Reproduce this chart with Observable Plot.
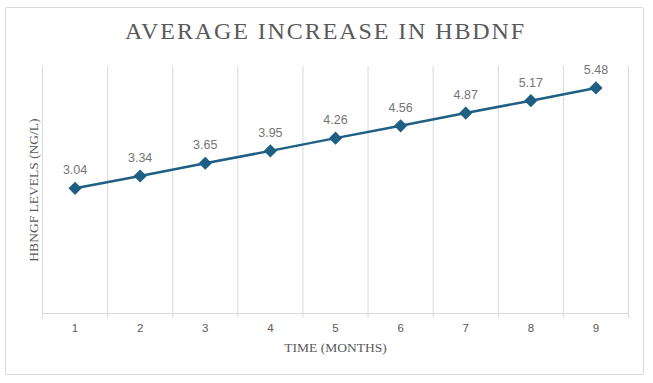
<!DOCTYPE html>
<html>
<head>
<meta charset="utf-8">
<script src="https://cdn.jsdelivr.net/npm/d3@7"></script>
<script src="https://cdn.jsdelivr.net/npm/@observablehq/plot@0.6"></script>
<style>
  html, body { margin: 0; padding: 0; background: #fff; }
  #wrap { position: relative; width: 653px; height: 383px; overflow: hidden; }
  #border { position: absolute; left: 5px; top: 7px; width: 639px; height: 368px; border: 1px solid #d9d9d9; border-radius: 2px; box-sizing: border-box; }
  #title { position: absolute; left: 0; top: 18px; width: 651px; text-align: center; font-family: "Liberation Serif", "DejaVu Serif", serif; font-size: 24px; letter-spacing: 1.9px; color: #595959; }
  #chart { position: absolute; left: 0; top: 50px; }
</style>
</head>
<body>
<div id="wrap">
  <div id="border"></div>
  <div id="title">AVERAGE INCREASE IN HBDNF</div>
  <div id="chart"></div>
</div>
<script>
const months = [1, 2, 3, 4, 5, 6, 7, 8, 9];
const values = [3.04, 3.34, 3.65, 3.95, 4.26, 4.56, 4.87, 5.17, 5.48];
const xLabel = "TIME (MONTHS)";
const yLabel = "HBNGF LEVELS (NG/L)";
const yDomain = [0, 6];

const data = months.map((m, i) => ({month: m, value: values[i]}));
const boundaries = [months[0] - 0.5, ...months.map(m => m + 0.5)];
const lineColor = "#1f5f84";
const serif = "Liberation Serif, DejaVu Serif, serif";
const sans = "Liberation Sans, Arial, sans-serif";

const chart = Plot.plot({
  width: 653,
  height: 333,
  marginTop: 16,
  marginBottom: 70,
  marginLeft: 42,
  marginRight: 25,
  x: {domain: [boundaries[0], boundaries[boundaries.length - 1]], axis: null},
  y: {domain: yDomain, axis: null},
  marks: [
    Plot.ruleX(boundaries, {stroke: "#d9d9d9", strokeWidth: 1}),
    Plot.ruleY([yDomain[0]], {stroke: "#d9d9d9", strokeWidth: 1}),
    Plot.axisX({ticks: boundaries, tickSize: 5, tickFormat: () => "", stroke: "#d9d9d9", label: null}),
    Plot.axisX({ticks: months, tickSize: 0, tickPadding: 10, tickFormat: d => String(d), fill: "#595959", fontSize: 11.5, fontFamily: sans, label: null}),
    Plot.line(data, {x: "month", y: "value", stroke: lineColor, strokeWidth: 2.5}),
    Plot.dot(data, {x: "month", y: "value", symbol: "diamond2", r: 5, fill: lineColor, stroke: lineColor}),
    Plot.text(data, {x: "month", y: "value", text: d => d.value.toFixed(2), dy: -18, fill: "#757575", fontSize: 12.5, fontFamily: sans}),
    Plot.text([xLabel], {frameAnchor: "bottom", dy: 38, fill: "#595959", fontSize: 13.5, fontFamily: serif}),
    Plot.text([yLabel], {frameAnchor: "left", textAnchor: "middle", rotate: -90, dx: -9, fill: "#595959", fontSize: 13.5, fontFamily: serif})
  ]
});
document.getElementById("chart").appendChild(chart);
</script>
</body>
</html>
